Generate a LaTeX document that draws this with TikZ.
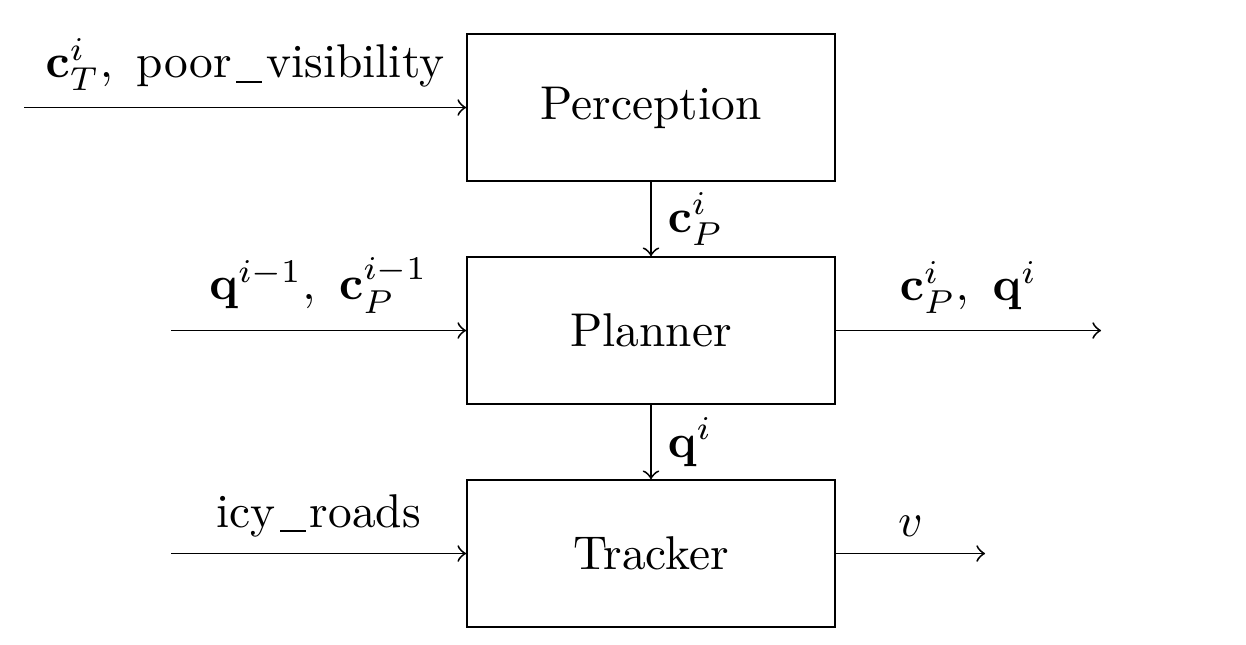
\documentclass[tikz,border=0pt]{standalone}
\usepackage{amsmath}
\newcommand\myusc{\kern.1em\rule[-0.25ex]{0.55em}{0.45pt}\kern.08em}
\begin{document}
\begin{tikzpicture}[x=0.211pt,y=-0.211pt,
  blockbox/.style={draw,minimum width=77.65pt,minimum height=31.02pt,inner sep=0pt,font=\normalsize},
  flow/.style={->}]
\useasboundingbox (0,0) rectangle (1246,644);
\node[blockbox] (per) at (651,107.5) {Perception};
\node[blockbox] (pla) at (651,330.5) {Planner};
\node[blockbox] (tra) at (651,553.5) {Tracker};
\coordinate (inper) at (24,107.5);
\coordinate (inpla) at (171,330.5);
\coordinate (intra) at (171,553.5);
\coordinate (outpla) at (1101,330.5);
\coordinate (outtra) at (985,553.5);
\draw[flow] (inper) -- node[above] {$\mathbf{c}_T^i,\ \text{poor\myusc visibility}$} (per.west);
\draw[flow] (inpla) -- node[above] {$\mathbf{q}^{i-1},\ \mathbf{c}_P^{i-1}$} (pla.west);
\draw[flow] (intra) -- node[above] {icy\myusc roads} (tra.west);
\draw[flow] (pla.east) -- node[above] {$\mathbf{c}_P^{i},\ \mathbf{q}^{i}$} (outpla);
\draw[flow] (tra.east) -- node[above] {$v$} (outtra);
\draw[flow] (per.south) -- node[right] {$\mathbf{c}_P^{i}$} (pla.north);
\draw[flow] (pla.south) -- node[right] {$\mathbf{q}^{i}$} (tra.north);
\end{tikzpicture}
\end{document}
